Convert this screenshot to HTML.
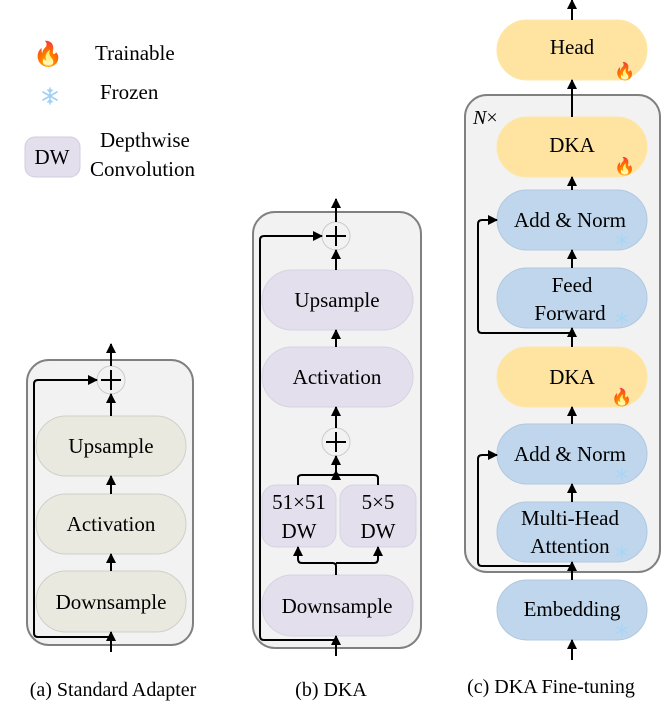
<!DOCTYPE html>
<html><head><meta charset="utf-8"><style>body{margin:0;background:#fff;font-family:"Liberation Serif","Times New Roman",Times,serif}svg{display:block}svg text{font-family:"Liberation Serif","Times New Roman",Times,serif;fill:#000}</style></head><body>
<svg width="665" height="714" viewBox="0 0 665 714" xmlns="http://www.w3.org/2000/svg">
<defs><marker id="ar" viewBox="0 0 10 10" refX="9" refY="5" markerWidth="5" markerHeight="5" orient="auto"><path d="M0,0L10,5L0,10z" fill="#000"/></marker>
<g id="sf" stroke="#9fd0f4" stroke-width="1.6" stroke-linecap="round"><path d="M0-8V8M-7-4L7 4M-7 4L7-4M-2-6L0-4L2-6M-2 6L0 4L2 6"/></g>
<g id="sfs" stroke="#a8d6f6" stroke-width="1.3" stroke-linecap="round"><path d="M0-6V6M-5.2-3L5.2 3M-5.2 3L5.2-3"/></g>
</defs>
<g font-size="21">
<text x="48" y="62" font-size="24" text-anchor="middle">🔥</text>
<text x="95" y="60">Trainable</text>
<use href="#sf" x="50" y="96"/>
<text x="100" y="99">Frozen</text>
<rect x="25" y="137" width="55" height="40" rx="10" fill="#e3dfec" stroke="#d0cce0"/>
<text x="52" y="164" text-anchor="middle">DW</text>
<text x="100" y="147">Depthwise</text>
<text x="90" y="176">Convolution</text>
</g>
<rect x="27" y="360" width="166" height="285" rx="22" fill="#f2f2f2" stroke="#808080" stroke-width="2"/>
<g stroke="#d0d0c8" fill="#e9e9e0">
<rect x="36" y="416" width="150" height="60" rx="30"/>
<rect x="36" y="494" width="150" height="60" rx="30"/>
<rect x="36" y="571" width="150" height="61" rx="30"/>
</g>
<circle cx="111" cy="380" r="14" fill="#f2f2f2" stroke="#ccc"/>
<g stroke="#000" stroke-width="2" fill="none" marker-end="url(#ar)">
<path d="M111 366V344"/><path d="M111 416V394"/><path d="M111 494V476"/><path d="M111 571V554"/><path d="M111 652V632"/>
<path d="M111 637H38Q34 637 34 633V384Q34 380 38 380H97"/>
</g>
<path d="M111 370V390M101 380H121" stroke="#000" stroke-width="2"/>
<g font-size="21" text-anchor="middle">
<text x="111" y="453">Upsample</text><text x="111" y="531">Activation</text><text x="111" y="609">Downsample</text>
</g>
<rect x="253" y="212" width="168" height="436" rx="22" fill="#f2f2f2" stroke="#808080" stroke-width="2"/>
<g stroke="#d6d2e2" fill="#e3dfec">
<rect x="262" y="270" width="151" height="60" rx="30"/>
<rect x="262" y="347" width="151" height="60" rx="30"/>
<rect x="262" y="485" width="74" height="62" rx="14"/>
<rect x="340" y="485" width="76" height="62" rx="14"/>
<rect x="262" y="575" width="151" height="61" rx="30"/>
</g>
<circle cx="336" cy="236" r="14" fill="#f2f2f2" stroke="#ccc"/>
<circle cx="336" cy="442" r="14" fill="#f2f2f2" stroke="#ccc"/>
<path d="M336 226V246M326 236H346M336 432V452M326 442H346" stroke="#000" stroke-width="2"/>
<g stroke="#000" stroke-width="2" fill="none" marker-end="url(#ar)">
<path d="M336 222V199"/><path d="M336 270V250"/><path d="M336 347V330"/><path d="M336 428V407"/>
<path d="M298 485V478Q298 475 302 475H332Q336 475 336 471V456"/>
<path d="M378 485V478Q378 475 374 475H340Q336 475 336 471"/>
<path d="M336 575V566Q336 563 332 563H302Q298 563 298 559V547"/>
<path d="M336 563H374Q378 563 378 559V547"/>
<path d="M336 656V636"/>
<path d="M336 640H264Q260 640 260 636V240Q260 236 264 236H322"/>
</g>
<g font-size="21" text-anchor="middle">
<text x="337" y="307">Upsample</text><text x="337" y="384">Activation</text>
<text x="299" y="509">51×51</text><text x="299" y="538">DW</text>
<text x="378" y="509">5×5</text><text x="378" y="538">DW</text>
<text x="337" y="613">Downsample</text>
</g>
<rect x="465" y="95" width="195" height="477" rx="22" fill="#f2f2f2" stroke="#808080" stroke-width="2"/>
<text x="473" y="124" font-size="20" font-style="italic">N<tspan font-style="normal">×</tspan></text>
<g stroke="#fde7a8" fill="#fee4a0">
<rect x="497" y="20" width="150" height="60" rx="30"/>
<rect x="497" y="117" width="150" height="60" rx="30"/>
<rect x="497" y="347" width="150" height="60" rx="30"/>
</g>
<g stroke="#b0c8e0" fill="#bfd6ec">
<rect x="497" y="190" width="150" height="60" rx="30"/>
<rect x="497" y="268" width="150" height="60" rx="30"/>
<rect x="497" y="424" width="150" height="60" rx="30"/>
<rect x="497" y="502" width="150" height="60" rx="30"/>
<rect x="497" y="580" width="150" height="60" rx="30"/>
</g>
<g stroke="#000" stroke-width="2" fill="none" marker-end="url(#ar)">
<path d="M572 20V0"/><path d="M572 117V80"/><path d="M572 190V177"/><path d="M572 268V250"/><path d="M572 347V328"/><path d="M572 424V407"/><path d="M572 502V484"/><path d="M572 580V562"/><path d="M572 660V640"/>
<path d="M572 333H482Q478 333 478 329V224Q478 220 482 220H497"/>
<path d="M572 566H482Q478 566 478 562V459Q478 455 482 455H497"/>
</g>
<g font-size="21" text-anchor="middle">
<text x="572" y="54">Head</text><text x="572" y="152">DKA</text><text x="570" y="227">Add &amp; Norm</text>
<text x="572" y="292">Feed</text><text x="570" y="320">Forward</text>
<text x="572" y="384">DKA</text><text x="570" y="461">Add &amp; Norm</text>
<text x="570" y="525">Multi-Head</text><text x="570" y="553">Attention</text>
<text x="572" y="616">Embedding</text>
</g>
<g font-size="17" text-anchor="middle">
<text x="625" y="77">🔥</text><text x="625" y="172">🔥</text><text x="622" y="403">🔥</text>
</g>
<use href="#sfs" x="622" y="240"/><use href="#sfs" x="622" y="318"/><use href="#sfs" x="622" y="474"/><use href="#sfs" x="622" y="552"/><use href="#sfs" x="622" y="630"/>
<g font-size="20" text-anchor="middle">
<text x="113" y="696">(a) Standard Adapter</text><text x="331" y="696">(b) DKA</text><text x="551" y="693">(c) DKA Fine-tuning</text>
</g>
</svg>
</body></html>
